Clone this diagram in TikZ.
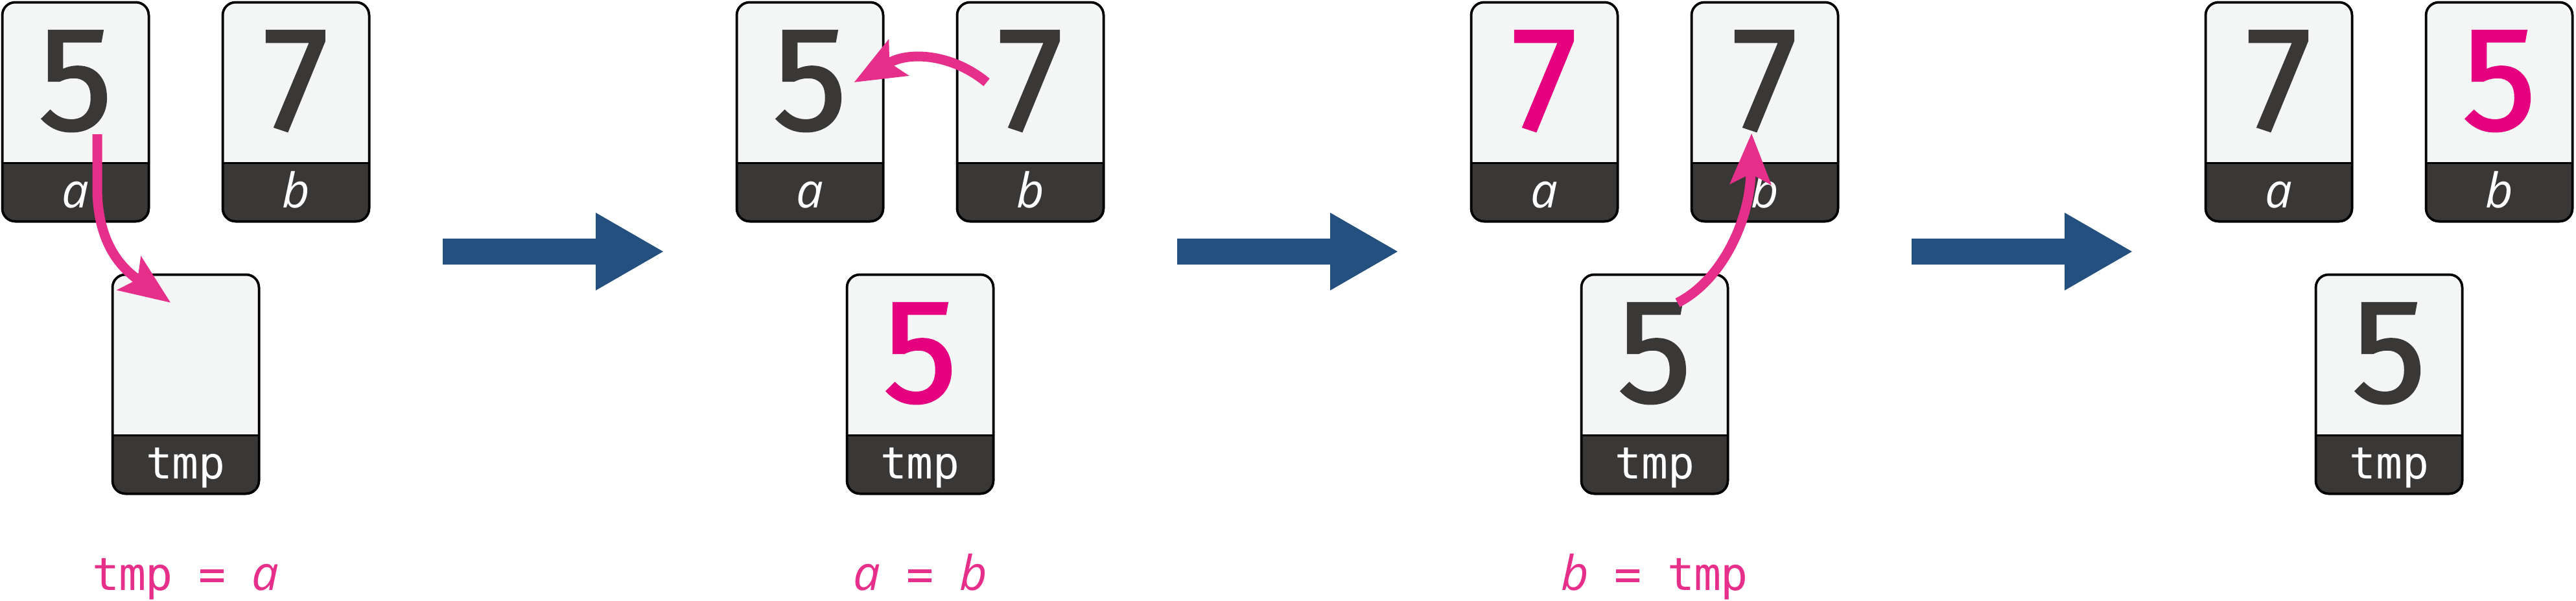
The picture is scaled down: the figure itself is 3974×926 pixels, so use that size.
\documentclass[tikz,border=0pt]{standalone}
\usepackage{fontspec}
\usetikzlibrary{arrows.meta,calc}
\newfontfamily\digitfont{Fira Sans}[FakeBold=1.5]
\newfontfamily\labfont{Open Sans}
\newfontfamily\monofont{DejaVu Sans Mono}
\definecolor{cellfill}{HTML}{F4F6F5}
\definecolor{banddark}{HTML}{3A3837}
\definecolor{digdark}{HTML}{3A3837}
\definecolor{digpink}{HTML}{E4007F}
\definecolor{arrpink}{HTML}{E62E8B}
\definecolor{stepblue}{HTML}{23507E}
\newcommand\cc[1]{\makebox[41pt][c]{#1}}
\newcommand\va[1]{{\labfont\itshape\fontsize{74}{74}\selectfont #1}}
\tikzset{
  cell/.style={draw=black, line width=3.5pt, fill=cellfill, rounded corners=20pt,
    minimum width=226pt, minimum height=338pt, inner sep=0pt, outer sep=0pt,
    path picture={
      \fill[banddark, sharp corners] (path picture bounding box.south west) rectangle ($(path picture bounding box.south east)+(0,-90)$);
      \draw[black, line width=3.5pt, sharp corners] ($(path picture bounding box.south west)+(0,-90)$) -- ($(path picture bounding box.south east)+(0,-90)$);
    },
    postaction={draw=black, line width=3.5pt}},
  dig/.style={font=\digitfont\fontsize{228}{228}\selectfont, inner sep=0pt, outer sep=0pt, anchor=base},
  lab/.style={font=\labfont\itshape\fontsize{74}{74}\selectfont, text=white, inner sep=0pt, anchor=base},
  tmplab/.style={font=\monofont\fontsize{68}{68}\selectfont, text=white, inner sep=0pt, anchor=base},
  expr/.style={font=\monofont\fontsize{70}{70}\selectfont, text=arrpink, inner sep=0pt, anchor=base},
  flow/.style={draw=arrpink, line width=15pt, line cap=butt,
    -{Stealth[length=79pt, width=65pt, inset=17pt, line width=0pt]}, shorten >=-79pt},
  stepshape/.style={fill=stepblue}
}
\begin{document}
\begin{tikzpicture}[x=1pt, y=-1pt]
\useasboundingbox (0,0) rectangle (3974,926);

% ---------- panel 1 ----------
\node[cell] (a1) at (116.5,172.5) {};
\node[cell] (b1) at (456.5,172.5) {};
\node[cell] (t1) at (286.5,592.5) {};
\node[dig, text=digdark] (a1v) at ($(a1.north)+(0,196.5)$) {5};
\node[dig, text=digdark] (b1v) at ($(b1.north)+(0,196.5)$) {7};
\node[lab] (a1l) at ($(a1.south)+(0,-21.5)$) {a};
\node[lab] (b1l) at ($(b1.south)+(0,-21.5)$) {b};
\node[tmplab] (t1l) at ($(t1.south)+(0,-23.5)$) {\cc{t}\cc{m}\cc{p}};
\node[expr] (x1) at (286.5,910) {\cc{t}\cc{m}\cc{p}\cc{}\cc{=}\cc{}\cc{\va{a}}};

% ---------- panel 2 ----------
\node[cell] (a2) at (1249.5,172.5) {};
\node[cell] (b2) at (1589.5,172.5) {};
\node[cell] (t2) at (1419.5,592.5) {};
\node[dig, text=digdark] (a2v) at ($(a2.north)+(0,196.5)$) {5};
\node[dig, text=digdark] (b2v) at ($(b2.north)+(0,196.5)$) {7};
\node[dig, text=digpink] (t2v) at ($(t2.north)+(0,196.5)$) {5};
\node[lab] (a2l) at ($(a2.south)+(0,-21.5)$) {a};
\node[lab] (b2l) at ($(b2.south)+(0,-21.5)$) {b};
\node[tmplab] (t2l) at ($(t2.south)+(0,-23.5)$) {\cc{t}\cc{m}\cc{p}};
\node[expr] (x2) at (1419.5,910) {\cc{\va{a}}\cc{}\cc{=}\cc{}\cc{\va{b}}};

% ---------- panel 3 ----------
\node[cell] (a3) at (2382.5,172.5) {};
\node[cell] (b3) at (2722.5,172.5) {};
\node[cell] (t3) at (2552.5,592.5) {};
\node[dig, text=digpink] (a3v) at ($(a3.north)+(0,196.5)$) {7};
\node[dig, text=digdark] (b3v) at ($(b3.north)+(0,196.5)$) {7};
\node[dig, text=digdark] (t3v) at ($(t3.north)+(0,196.5)$) {5};
\node[lab] (a3l) at ($(a3.south)+(0,-21.5)$) {a};
\node[lab] (b3l) at ($(b3.south)+(0,-21.5)$) {b};
\node[tmplab] (t3l) at ($(t3.south)+(0,-23.5)$) {\cc{t}\cc{m}\cc{p}};
\node[expr] (x3) at (2552.5,910) {\cc{\va{b}}\cc{}\cc{=}\cc{}\cc{t}\cc{m}\cc{p}};

% ---------- panel 4 ----------
\node[cell] (a4) at (3515.5,172.5) {};
\node[cell] (b4) at (3855.5,172.5) {};
\node[cell] (t4) at (3685.5,592.5) {};
\node[dig, text=digdark] (a4v) at ($(a4.north)+(0,196.5)$) {7};
\node[dig, text=digpink] (b4v) at ($(b4.north)+(0,196.5)$) {5};
\node[dig, text=digdark] (t4v) at ($(t4.north)+(0,196.5)$) {5};
\node[lab] (a4l) at ($(a4.south)+(0,-21.5)$) {a};
\node[lab] (b4l) at ($(b4.south)+(0,-21.5)$) {b};
\node[tmplab] (t4l) at ($(t4.south)+(0,-23.5)$) {\cc{t}\cc{m}\cc{p}};

% ---------- step arrows ----------
\foreach \ox in {0,1133,2266}{
  \fill[stepshape] (683+\ox,368) -- (919+\ox,368) -- (919+\ox,328) -- (1023+\ox,388)
    -- (919+\ox,448) -- (919+\ox,408) -- (683+\ox,408) -- cycle;
}

% ---------- pink transfer arrows ----------
\coordinate (s1) at (150,207);
\coordinate (m1) at (150,290);
\coordinate (e1) at (198.5,421);
\draw[flow] (s1) -- (m1) .. controls (150,345) and (166,398) .. (e1);

\coordinate (s2) at (1522,127);
\coordinate (e2) at (1387,88.5);
\draw[flow] (s2) .. controls (1470,84) and (1404.5,78.8) .. (e2);

\coordinate (s3) at (2588,467);
\coordinate (e3) at (2700.5,285);
\draw[flow] (s3) .. controls (2660,430) and (2699.5,335) .. (e3);
\end{tikzpicture}
\end{document}
